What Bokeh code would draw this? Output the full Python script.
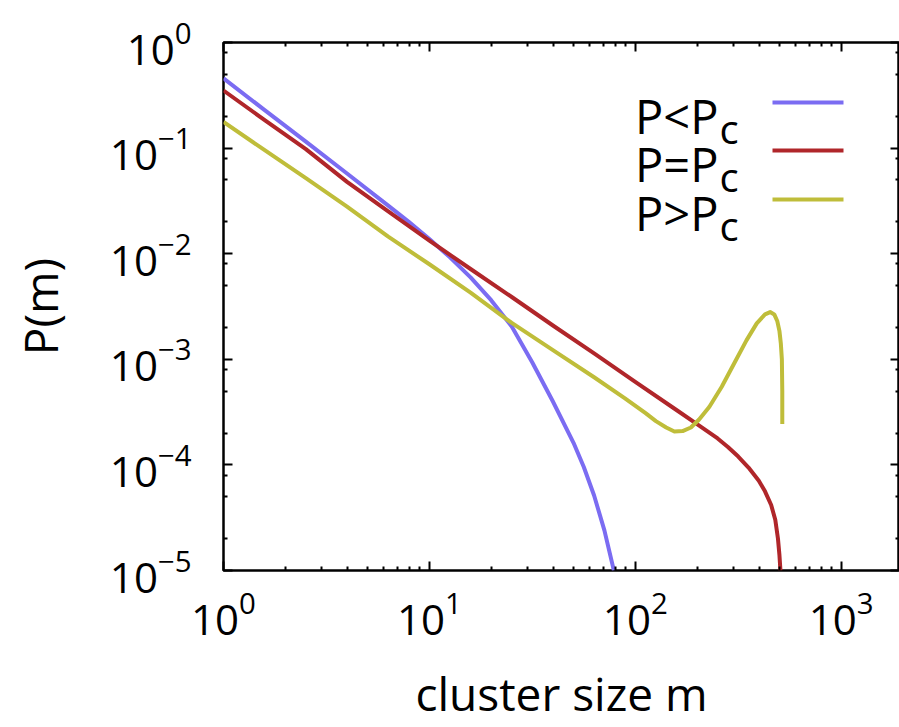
from bokeh.plotting import figure
from bokeh.models import LogAxis, FixedTicker, Label, Arrow, Range1d, CustomJSTickFormatter
from bokeh.embed import file_html
from bokeh.resources import INLINE

# ---- data ----
m_below = [1, 1.585, 2.512, 3.981, 6.31, 7.943, 10, 12.59, 15.85, 19.95, 25.12, 31.62, 39.81,
           50.12, 56.23, 63.1, 70.8, 78.7]
p_below = [0.457, 0.229, 0.115, 0.0575, 0.0285, 0.0200, 0.0138, 0.00923, 0.00596, 0.00363,
           0.00204, 0.000933, 0.000398, 0.000162, 0.0000955, 0.0000513, 0.0000240, 0.0000100]

m_crit = [1, 1.585, 2.512, 3.981, 6.31, 10, 15.85, 25.12, 39.81, 63.1, 100, 158.5, 199.5,
          251.2, 281.8, 316.2, 354.8, 398.1, 426.6, 457.1, 478.6, 493.2, 501.2, 507]
p_crit = [0.351, 0.184, 0.0977, 0.0479, 0.0251, 0.0133, 0.00716, 0.00389, 0.00209, 0.00114,
          0.000610, 0.000331, 0.000243, 0.000178, 0.000148, 0.000120, 0.0000944, 0.0000708,
          0.0000562, 0.0000417, 0.0000302, 0.0000200, 0.0000141, 0.0000100]

m_above = [1, 1.585, 2.512, 3.981, 6.31, 10, 15.85, 25.12, 39.81, 63.1, 89.1, 112.2, 125.9,
           141.3, 154.9, 169.8, 186.2, 204.2, 229.1, 263.0, 302.0, 346.7, 389.0, 426.6, 451.9,
           473.2, 489.8, 501.2, 509.3, 515.2, 517.6, 517.6]
p_above = [0.177, 0.0955, 0.0519, 0.0279, 0.0145, 0.00794, 0.00427, 0.00221, 0.00122, 0.000676,
           0.000427, 0.000309, 0.000260, 0.000226, 0.000207, 0.000209, 0.000226, 0.000269,
           0.000355, 0.000550, 0.000912, 0.00151, 0.00219, 0.00266, 0.00280, 0.00266, 0.00229,
           0.00186, 0.00141, 0.00100, 0.000501, 0.000244]

series_labels = ["P<P", "P=P", "P>P"]
series_colors = ["#7b6cf2", "#b0262a", "#bfbd3a"]

x_major = [1, 10, 100, 1000]
x_minor = [k * 10 ** e for e in range(0, 4) for k in range(2, 10)]
y_major = [1e-5, 1e-4, 1e-3, 1e-2, 1e-1, 1]
y_minor = [k * 10.0 ** e for e in range(-5, 0) for k in (2, 5, 8)]

FONT = "Open Sans"

p = figure(width=899, height=727, x_axis_type="log", y_axis_type="log",
           x_range=Range1d(1, 1920), y_range=Range1d(1e-5, 1),
           output_backend="svg", toolbar_location=None,
           min_border_left=223, min_border_right=0, min_border_top=42, min_border_bottom=157,
           background_fill_color="white", border_fill_color="white")
p.xgrid.visible = False
p.ygrid.visible = False
p.outline_line_color = "black"
p.outline_line_width = 2.5
p.outline_line_alpha = 1.0


def style_axis(ax, majors, minors):
    ax.ticker = FixedTicker(ticks=majors, minor_ticks=minors)
    ax.major_tick_in = 9
    ax.major_tick_out = 0
    ax.minor_tick_in = 4
    ax.minor_tick_out = 0
    ax.major_tick_line_width = 2
    ax.minor_tick_line_width = 2
    ax.major_tick_line_color = "black"
    ax.minor_tick_line_color = "black"
    ax.axis_line_color = None
    ax.major_label_text_font = FONT
    ax.major_label_text_font_size = "42px"
    ax.major_label_text_color = "black"
    ax.axis_label_text_font = FONT
    ax.axis_label_text_font_size = "46px"
    ax.axis_label_text_font_style = "normal"
    ax.axis_label_text_color = "black"


xa = p.xaxis[0]
ya = p.yaxis[0]
style_axis(xa, x_major, x_minor)
style_axis(ya, y_major, y_minor)
xa.axis_label = "cluster size m"
ya.axis_label = "P(m)"
xa.major_label_standoff = 20
ya.major_label_standoff = 32
xa.axis_label_standoff = 24
ya.axis_label_standoff = 36

# mirrored ticks on top and right
blank = CustomJSTickFormatter(code="return ''")
for loc, majors, minors in (("above", x_major, x_minor), ("right", y_major, y_minor)):
    ax = LogAxis()
    style_axis(ax, majors, minors)
    ax.formatter = blank
    ax.major_label_text_font_size = "0px"
    ax.major_label_standoff = 0
    ax.axis_label_standoff = 0
    p.add_layout(ax, loc)

# curves
for mx, py, col in ((m_below, p_below, series_colors[0]),
                    (m_crit, p_crit, series_colors[1]),
                    (m_above, p_above, series_colors[2])):
    p.line(mx, py, line_color=col, line_width=4, line_join="round")

# legend (text on the left, sample line on the right, subscript c)
legend_baselines = [455, 407, 358]
for i, (lab, col) in enumerate(zip(series_labels, series_colors)):
    yb = legend_baselines[i]
    p.add_layout(Label(x=495, y=yb, x_units="screen", y_units="screen", text=lab,
                       text_align="right", text_baseline="alphabetic",
                       text_font=FONT, text_font_size="47px", text_color="black"))
    p.add_layout(Label(x=496, y=yb - 13, x_units="screen", y_units="screen", text="c",
                       text_align="left", text_baseline="alphabetic",
                       text_font=FONT, text_font_size="40px", text_color="black"))
    p.add_layout(Arrow(end=None, x_start=549, y_start=yb + 13, x_end=620, y_end=yb + 13,
                       start_units="screen", end_units="screen",
                       line_color=col, line_width=4))

open("out.html", "w").write(file_html(p, INLINE))
